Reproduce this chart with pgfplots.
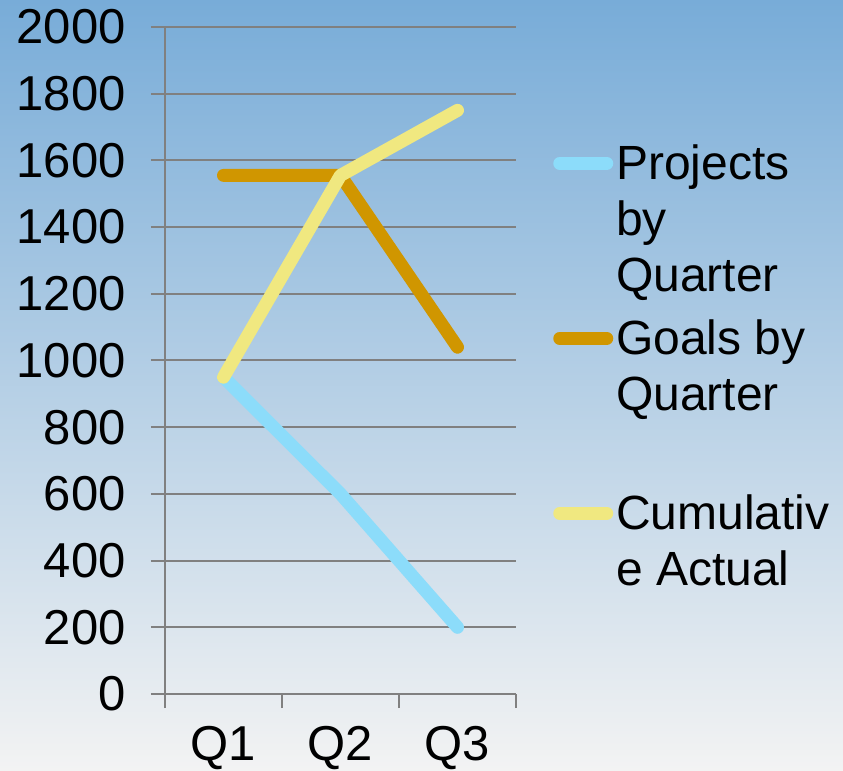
\documentclass[border=0pt]{standalone}
\usepackage{pgfplots}
\pgfplotsset{compat=1.18}
\usepackage{fontspec}
\setmainfont{Liberation Sans}
\definecolor{projc}{RGB}{140,220,250}
\definecolor{goalc}{RGB}{208,150,0}
\definecolor{cumc}{RGB}{240,232,128}
\definecolor{gridc}{RGB}{128,128,128}
\definecolor{bgtop}{RGB}{120,172,216}
\definecolor{bgmid}{RGB}{172,202,228}
\definecolor{bgbot}{RGB}{243,243,243}
\newcommand{\tickfont}{\fontsize{24.5bp}{28bp}\selectfont}
\newcommand{\legfont}{\fontsize{24bp}{28bp}\selectfont}

\begin{document}
\begin{tikzpicture}
% background, 843x771 px at 0.5bp per px
\shade[top color=bgtop, middle color=bgmid, bottom color=bgbot] (0,0) rectangle (421.5bp,385.5bp);
\begin{axis}[
    at={(82.5bp,38.5bp)}, anchor=south west,
    width=175.5bp, height=333.5bp, scale only axis,
    xmin=0.5, xmax=3.5, ymin=0, ymax=2000,
    axis x line=bottom, axis y line=left,
    axis line style={gridc, line width=1bp, -},
    xtick={0.5,1.5,2.5,3.5}, xticklabels={},
    extra x ticks={1,2,3}, extra x tick labels={Q1,Q2,Q3},
    extra x tick style={major tick length=0pt, grid=none},
    ytick={0,200,...,2000},
    tick align=outside, major tick length=7bp,
    tick style={gridc, line width=1bp},
    ymajorgrids, grid style={gridc, line width=1bp},
    /pgf/number format/assume math mode=true,
    /pgf/number format/1000 sep={},
    tick label style={font=\tickfont, text=black},
    yticklabel style={inner sep=0pt, xshift=-12.5bp},
    xticklabel style={inner sep=0pt, yshift=-16bp},
    legend style={at={(1.105,0.823)}, anchor=north west, draw=none, fill=none,
        inner sep=0pt, row sep=0pt, column sep=1.5bp, font=\legfont,
        nodes={inner sep=0pt, text height=17bp, text depth=70.5bp}},
    legend cell align=left,
    legend image code/.code={\draw[#1, line cap=round] (3.25bp,34.75bp) -- (26.75bp,34.75bp);},
    every axis plot/.append style={line width=6.5bp, line cap=round, line join=round},
]
\addplot[projc] coordinates {(1,950) (2,600) (3,200)};
\addlegendentry{\parbox[t]{120bp}{Projects\\by\\Quarter}}
\addplot[goalc] coordinates {(1,1555) (2,1555) (3,1040)};
\addlegendentry{\parbox[t]{120bp}{Goals by\\Quarter}}
\addplot[cumc] coordinates {(1,950) (2,1555) (3,1750)};
\addlegendentry{\parbox[t]{120bp}{Cumulativ\\e Actual}}
\end{axis}
\pgfresetboundingbox
\path[use as bounding box] (0,0) rectangle (421.5bp,385.5bp);
\end{tikzpicture}
\end{document}
